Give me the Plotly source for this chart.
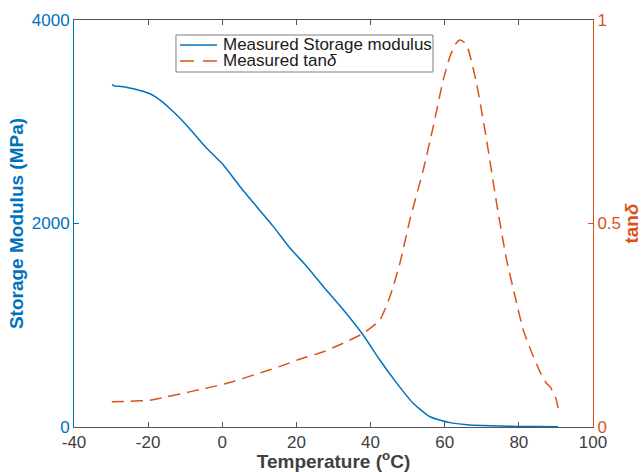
import plotly.graph_objects as go

# Storage modulus (MPa) vs temperature (°C)
temp_storage = [-29.7, -29.3, -28, -26, -24, -22, -20, -18, -16, -14, -11.4, -7.8, -4.2, 0.3, 4.8,
                9.3, 13.8, 18.3, 22.5, 27.3, 32.7, 38.0, 42.5, 47.1, 51.5, 56.0, 61.4, 66,
                70, 75, 80, 85, 90.6]
storage_values = [3368, 3352, 3348, 3340, 3325, 3305, 3282, 3245, 3190, 3125, 3034, 2890, 2739,
                  2575, 2362, 2165, 1969, 1756, 1590, 1379, 1150, 904, 658, 429, 233, 101, 43,
                  22, 14, 9, 6, 4, 3]

# tan delta vs temperature (°C)
temp_tan = [-29.8, -25, -19.5, -15, -10.5, -6, -1.5, 3, 7.5, 12, 16.5, 21.0, 27.3, 33.6, 38.0,
            42.5, 45.2, 47.9, 50.6, 54.2, 56.9, 59.6, 61.4, 63.0, 64.1, 65.3, 66.4, 68.6,
            71.3, 74.0, 76.7, 79.0, 81.2, 83.9, 86.0, 87.5, 88.5, 89.3, 90.0, 90.6]
tan_values = [0.062, 0.063, 0.066, 0.074, 0.083, 0.092, 0.101, 0.112, 0.125, 0.138, 0.152, 0.167,
              0.185, 0.210, 0.230, 0.263, 0.320, 0.402, 0.509, 0.631, 0.738, 0.853, 0.910,
              0.942, 0.951, 0.945, 0.926, 0.844, 0.705, 0.550, 0.410, 0.320, 0.238, 0.173,
              0.130, 0.107, 0.098, 0.083, 0.070, 0.046]

x_ticks = [-40, -20, 0, 20, 40, 60, 80, 100]
y1_ticks = [0, 2000, 4000]
y2_ticks = [0, 0.5, 1]
legend_labels = ["Measured Storage modulus", "Measured tan<i>δ</i>"]

BLUE = "#0072BD"
ORANGE = "#D95319"
AXIS = "#555555"
TEXT = "#404040"
FONT = "Liberation Sans, Arial, Helvetica, sans-serif"
DASH = "12px,7px"

fig = go.Figure()
fig.add_trace(go.Scatter(
    x=temp_storage, y=storage_values, mode="lines", name=legend_labels[0],
    line=dict(color=BLUE, width=1.5, shape="spline", smoothing=0.5),
    yaxis="y", showlegend=False))
fig.add_trace(go.Scatter(
    x=temp_tan, y=tan_values, mode="lines", name=legend_labels[1],
    line=dict(color=ORANGE, width=1.5, dash=DASH, shape="spline", smoothing=0.5),
    yaxis="y2", showlegend=False))

# MATLAB-style compact legend box (paper coordinates)
lx0, lx1, ly0, ly1 = 0.1965, 0.6917, 0.8722, 0.9631
row_y = [0.9386, 0.8993]
fig.add_shape(type="rect", xref="paper", yref="paper", x0=lx0, x1=lx1, y0=ly0, y1=ly1,
              line=dict(color="#7f7f7f", width=1), fillcolor="white", layer="above")
fig.add_shape(type="line", xref="paper", yref="paper", x0=0.2042, x1=0.2755,
              y0=row_y[0], y1=row_y[0], line=dict(color=BLUE, width=1.5), layer="above")
fig.add_shape(type="line", xref="paper", yref="paper", x0=0.2042, x1=0.2755,
              y0=row_y[1], y1=row_y[1], line=dict(color=ORANGE, width=1.5, dash="14px,9px"),
              layer="above")
for lab, ry in zip(legend_labels, row_y):
    fig.add_annotation(text=lab, xref="paper", yref="paper", x=0.2832, y=ry,
                       xanchor="left", yanchor="middle", showarrow=False,
                       font=dict(family=FONT, size=17, color="#1a1a1a"))

fig.update_layout(
    width=642, height=472,
    margin=dict(l=74, r=49, t=20, b=45),
    paper_bgcolor="white", plot_bgcolor="white",
    font=dict(family=FONT, size=17, color=TEXT),
    showlegend=False,
    xaxis=dict(
        range=[-40, 100], tickvals=x_ticks, ticktext=[str(v) for v in x_ticks],
        showgrid=False, zeroline=False, automargin=False,
        showline=True, linecolor=AXIS, linewidth=1, mirror="ticks",
        ticks="inside", ticklen=5, tickcolor=AXIS,
        tickfont=dict(size=17, color=TEXT),
        title=dict(text="<b>Temperature (<sup>o</sup>C)</b>", standoff=3,
                   font=dict(size=19, color=TEXT)),
    ),
    yaxis=dict(
        range=[0, 4000], tickvals=y1_ticks, ticktext=[str(v) for v in y1_ticks],
        showgrid=False, zeroline=False, automargin=False,
        showline=True, linecolor=BLUE, linewidth=1,
        ticks="inside", ticklen=5, tickcolor=BLUE,
        tickfont=dict(size=17, color=BLUE),
        title=dict(text="<b>Storage Modulus (MPa)</b>", standoff=3,
                   font=dict(size=19, color=BLUE)),
    ),
    yaxis2=dict(
        range=[0, 1], tickvals=y2_ticks, ticktext=["0", "0.5", "1"],
        overlaying="y", side="right",
        showgrid=False, zeroline=False, automargin=False,
        showline=True, linecolor=ORANGE, linewidth=1,
        ticks="inside", ticklen=5, tickcolor=ORANGE,
        tickfont=dict(size=17, color=ORANGE),
        title=dict(text="<b>tan<i>δ</i></b>", standoff=3,
                   font=dict(size=19, color=ORANGE)),
    ),
)

fig.write_html(
    "out.html",
    config={"displayModeBar": False},
    post_script="document.body.style.margin='0';document.body.style.overflow='hidden';",
)
